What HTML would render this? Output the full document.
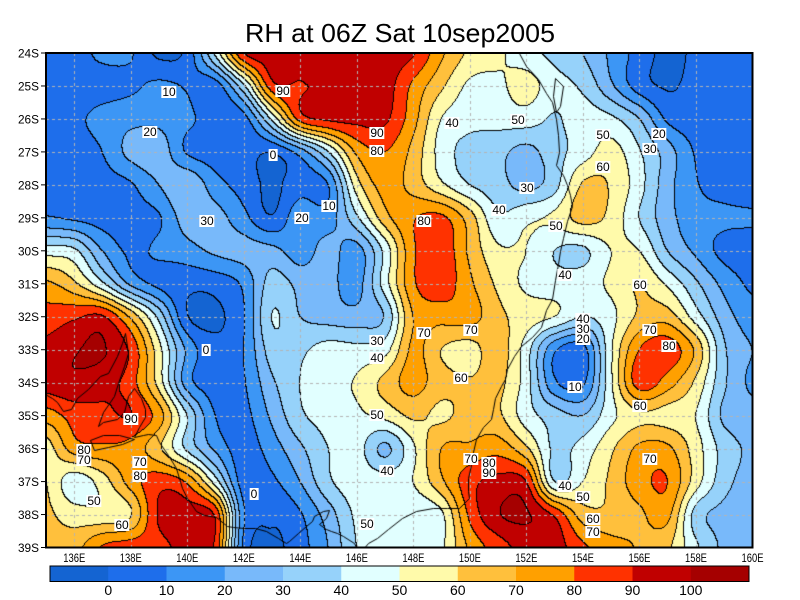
<!DOCTYPE html>
<html><head><meta charset="utf-8">
<style>
html,body{margin:0;padding:0;background:#fff;}
#wrap{position:relative;width:800px;height:600px;overflow:hidden;background:#fff;}
#c{position:absolute;left:46px;top:53px;}
#s{position:absolute;left:0;top:0;}
.lb{position:absolute;background:#fff;font-family:"Liberation Sans",sans-serif;font-size:12px;line-height:12px;color:#000;padding:0 1px;transform:translate(-50%,-50%);white-space:nowrap;}
</style></head><body>
<div id="wrap">
<canvas id="c" width="707" height="495"></canvas>
<svg id="s" width="800" height="600" xmlns="http://www.w3.org/2000/svg" font-family="Liberation Sans, sans-serif">
<text x="400" y="42" font-size="26" text-anchor="middle" textLength="310" lengthAdjust="spacingAndGlyphs">RH at 06Z Sat 10sep2005</text>
<g id="axes" font-size="12"></g>
<rect x="46" y="53" width="706.5" height="494.5" fill="none" stroke="#000" stroke-width="2"/>
<g id="cbar"></g>
</svg>
<div class="lb" style="left:169px;top:92px">10</div>
<div class="lb" style="left:150px;top:132px">20</div>
<div class="lb" style="left:273px;top:155px">0</div>
<div class="lb" style="left:207px;top:221px">30</div>
<div class="lb" style="left:302px;top:218px">20</div>
<div class="lb" style="left:329px;top:206px">10</div>
<div class="lb" style="left:283px;top:91px">90</div>
<div class="lb" style="left:377px;top:133px">90</div>
<div class="lb" style="left:377px;top:151px">80</div>
<div class="lb" style="left:452px;top:123px">40</div>
<div class="lb" style="left:518px;top:120px">50</div>
<div class="lb" style="left:527px;top:188px">30</div>
<div class="lb" style="left:499px;top:210px">40</div>
<div class="lb" style="left:603px;top:135px">50</div>
<div class="lb" style="left:603px;top:167px">60</div>
<div class="lb" style="left:659px;top:134px">20</div>
<div class="lb" style="left:650px;top:149px">30</div>
<div class="lb" style="left:424px;top:221px">80</div>
<div class="lb" style="left:556px;top:226px">50</div>
<div class="lb" style="left:565px;top:275px">40</div>
<div class="lb" style="left:640px;top:285px">60</div>
<div class="lb" style="left:206px;top:350px">0</div>
<div class="lb" style="left:377px;top:341px">30</div>
<div class="lb" style="left:377px;top:358px">40</div>
<div class="lb" style="left:424px;top:333px">70</div>
<div class="lb" style="left:471px;top:330px">70</div>
<div class="lb" style="left:461px;top:378px">60</div>
<div class="lb" style="left:583px;top:319px">40</div>
<div class="lb" style="left:583px;top:329px">30</div>
<div class="lb" style="left:583px;top:339px">20</div>
<div class="lb" style="left:575px;top:387px">10</div>
<div class="lb" style="left:650px;top:330px">70</div>
<div class="lb" style="left:669px;top:346px">80</div>
<div class="lb" style="left:640px;top:406px">60</div>
<div class="lb" style="left:131px;top:419px">90</div>
<div class="lb" style="left:377px;top:415px">50</div>
<div class="lb" style="left:84px;top:450px">80</div>
<div class="lb" style="left:84px;top:460px">70</div>
<div class="lb" style="left:140px;top:462px">70</div>
<div class="lb" style="left:140px;top:476px">80</div>
<div class="lb" style="left:387px;top:471px">40</div>
<div class="lb" style="left:471px;top:459px">70</div>
<div class="lb" style="left:489px;top:463px">80</div>
<div class="lb" style="left:489px;top:473px">90</div>
<div class="lb" style="left:650px;top:459px">70</div>
<div class="lb" style="left:254px;top:494px">0</div>
<div class="lb" style="left:94px;top:501px">50</div>
<div class="lb" style="left:565px;top:486px">40</div>
<div class="lb" style="left:583px;top:497px">50</div>
<div class="lb" style="left:122px;top:525px">60</div>
<div class="lb" style="left:367px;top:524px">50</div>
<div class="lb" style="left:593px;top:519px">60</div>
<div class="lb" style="left:593px;top:532px">70</div>
</div>
<script>
(function(){
var G=[
[5,6,12,11,-2,3,42,90,95,96,97,95,95,91,72,58,52,44,37,30,18,6,-3,2,5,6],
[5,5,6,8,12,9,5,38,86,89,93,97,95,78,62,48,48,54,44,38,22,5,-1,3,5,5],
[6,8,13,17,17,12,6,6,42,84,92,93,92,74,50,44,44,45,39,45,42,30,8,4,5,6],
[5,6,10,23,26,9,5,4,1,15,40,72,80,67,46,36,33,27,36,45,54,41,25,9,4,5],
[4,5,6,9,20,29,14,6,-2,6,10,55,74,66,52,40,34,27,36,61,59,44,24,11,6,5],
[11,8,6,7,9,25,24,13,1,17,15,38,66,79,82,65,42,48,52,64,57,40,24,14,12,11],
[45,42,20,8,12,16,22,24,23,15,24,16,43,78,87,68,52,50,40,38,50,50,30,18,7,6],
[72,62,42,18,7,3,4,12,34,27,24,16,45,78,86,72,58,48,44,45,52,60,48,32,17,8],
[84,88,91,68,37,1,-2,9,40,30,26,24,31,70,74,74,63,55,50,40,47,62,65,45,25,15],
[93,99,101,88,54,18,3,10,35,38,44,43,46,72,60,56,65,45,12,6,48,80,86,68,32,20],
[95,98,94,85,56,15,5,9,28,40,47,51,63,74,64,61,63,45,12,8,48,85,75,58,32,18],
[75,84,87,90,75,40,10,7,22,38,44,48,53,62,58,64,62,45,35,30,47,58,56,50,28,24],
[55,75,78,76,62,38,18,5,15,28,40,44,28,48,70,72,76,62,38,44,58,72,72,55,36,28],
[60,44,55,74,86,78,45,5,8,20,38,46,45,50,68,86,93,90,40,50,62,76,80,55,34,26],
[62,55,53,59,91,95,88,12,2,9,25,42,47,43,48,82,99,101,88,65,62,68,73,36,27,24],
[64,66,81,85,87,93,88,8,-2,6,20,40,42,44,48,72,85,94,95,82,74,69,62,42,28,25]
];
var COL=[[20,100,210],[30,110,235],[60,150,245],[120,185,250],[150,210,250],[225,255,255],[255,250,170],[255,192,60],[255,160,0],[255,50,0],[192,0,0],[165,0,0]];
var W=707,H=495,PX=706.5/25,PY=494.5/15;
function g(r,c){if(r<0)r=0;if(r>15)r=15;if(c<0)c=0;if(c>25)c=25;return G[r][c];}
function cr(p0,p1,p2,p3,t){return p1+0.5*t*(p2-p0+t*(2*p0-5*p1+4*p2-p3+t*(3*(p1-p2)+p3-p0)));}
function val(u,v){var c=Math.floor(u),r=Math.floor(v),tu=u-c,tv=v-r;var a=[];for(var j=-1;j<=2;j++){a.push(cr(g(r+j,c-1),g(r+j,c),g(r+j,c+1),g(r+j,c+2),tu));}return cr(a[0],a[1],a[2],a[3],tv);}
var cv=document.getElementById('c'),ctx=cv.getContext('2d');
var L=new Int8Array(W*H);
for(var y=0;y<H;y++){var v=Math.min(14.9999,(y+0.5)/PY);for(var x=0;x<W;x++){var u=Math.min(24.9999,(x+0.5)/PX);var f=val(u,v);var l=f<0?0:Math.min(11,Math.floor(f/10)+1);L[y*W+x]=l;}}
var img=ctx.createImageData(W,H),d=img.data;
for(var y=0;y<H;y++){for(var x=0;x<W;x++){var i=y*W+x,l=L[i],k=i*4;var edge=(x<W-1&&L[i+1]!=l)||(y<H-1&&L[i+W]!=l);if(edge){d[k]=0;d[k+1]=0;d[k+2]=0;}else{var c=COL[l];d[k]=c[0];d[k+1]=c[1];d[k+2]=c[2];}d[k+3]=255;}}
ctx.putImageData(img,0,0);
function X(lon){return (lon-135)*PX;}function Y(lat){return (lat-24)*PY;}
ctx.strokeStyle='#b4b4b4';ctx.lineWidth=1;ctx.setLineDash([3,3]);
for(var lon=136;lon<=158;lon+=2){var xx=Math.round(X(lon))+0.5;ctx.beginPath();ctx.moveTo(xx,0);ctx.lineTo(xx,H);ctx.stroke();}
for(var lat=25;lat<=38;lat++){var yy=Math.round(Y(lat))+0.5;ctx.beginPath();ctx.moveTo(0,yy);ctx.lineTo(W,yy);ctx.stroke();}
ctx.setLineDash([]);ctx.strokeStyle='#000';ctx.lineWidth=1;
var coasts=[
[[151.75,24.0],[152.0,24.4],[152.4,24.8],[152.7,25.2],[152.9,25.5],[153.05,26.0],[153.1,26.5],[153.15,27.0],[153.05,27.4],[153.3,27.7],[153.45,28.0],[153.55,28.3],[153.6,28.65],[153.45,29.1],[153.3,29.6],[153.2,30.0],[153.1,30.4],[153.0,30.9],[152.9,31.45],[152.7,31.8],[152.5,32.3],[152.2,32.6],[151.8,32.9],[151.55,33.2],[151.3,33.6],[151.25,33.9],[151.1,34.1],[150.9,34.45],[150.8,34.8],[150.75,35.1],[150.45,35.35],[150.2,35.7],[150.1,36.1],[150.05,36.5],[149.95,36.9],[149.95,37.3],[149.98,37.5],[149.6,37.8],[149.2,37.8],[148.7,37.8],[148.1,37.88],[147.6,38.1],[147.1,38.45],[146.7,38.7],[146.4,38.85],[146.2,39.05]],
[[146.0,39.05],[145.9,38.85],[145.5,38.65],[145.3,38.55],[145.1,38.5],[144.9,38.45],[144.65,38.3],[144.9,38.1],[145.0,37.85],[144.8,37.9],[144.5,38.05],[144.4,38.2],[144.2,38.35],[143.9,38.55],[143.6,38.8],[143.5,38.86],[143.2,38.72],[142.8,38.5],[142.4,38.4],[142.0,38.4],[141.6,38.38],[141.4,38.36],[141.0,38.06],[140.6,38.0],[140.3,37.88],[140.0,37.5],[139.8,37.2],[139.7,36.9],[139.6,36.6],[139.3,36.2],[139.0,35.8],[138.9,35.6],[138.6,35.55],[138.45,35.6],[138.1,35.65],[138.3,35.35],[138.5,35.05],[138.5,34.8],[138.35,34.45],[138.1,34.15],[137.9,34.4],[137.75,34.9],[137.5,35.1],[137.0,35.2],[136.85,35.3],[137.0,34.9],[137.4,34.4],[137.55,34.0],[137.75,33.5],[137.9,33.1],[137.8,32.5],[137.7,32.8],[137.5,33.2],[137.2,33.7],[136.9,33.8],[136.5,34.2],[136.1,34.45],[135.9,34.8],[135.6,34.85],[135.4,34.6],[135.2,34.45],[134.9,34.3]],
[[136.55,35.75],[137.0,35.6],[137.6,35.6],[138.1,35.72],[137.7,35.85],[137.2,35.95],[136.7,36.05],[136.55,35.75]],
[[153.0,24.75],[153.3,25.0],[153.2,25.6],[153.05,25.8],[152.95,25.3],[153.0,24.75]]
];
for(var n=0;n<coasts.length;n++){var p=coasts[n];ctx.beginPath();for(var m=0;m<p.length;m++){var px=Math.round(X(p[m][0]))+0.5,py=Math.round(Y(p[m][1]))+0.5;if(m==0)ctx.moveTo(px,py);else ctx.lineTo(px,py);}ctx.stroke();}
var NS='http://www.w3.org/2000/svg';
function el(tag,attrs,txt,parent){var e=document.createElementNS(NS,tag);for(var a in attrs)e.setAttribute(a,attrs[a]);if(txt!=null)e.textContent=txt;parent.appendChild(e);return e;}
var ax=document.getElementById('axes');
for(var lat=24;lat<=39;lat++){var yy=53+(lat-24)*PY;el('line',{x1:41,y1:yy,x2:46,y2:yy,stroke:'#000','stroke-width':1},null,ax);el('text',{x:39,y:yy+4.5,'text-anchor':'end','font-size':12,textLength:21,lengthAdjust:'spacingAndGlyphs'},lat+'S',ax);}
for(var lon=136;lon<=160;lon+=2){var xx=46+(lon-135)*PX;el('text',{x:xx,y:562,'text-anchor':'middle','font-size':12,textLength:22,lengthAdjust:'spacingAndGlyphs'},lon+'E',ax);}
var cb=document.getElementById('cbar');var cw=(749-50)/12;
for(var i=0;i<12;i++){var c=COL[i];el('rect',{x:50+i*cw,y:566,width:cw+0.5,height:15.5,fill:'rgb('+c[0]+','+c[1]+','+c[2]+')'},null,cb);}
el('rect',{x:50,y:566,width:699,height:15.5,fill:'none',stroke:'#000','stroke-width':1},null,cb);
var labs=['0','10','20','30','40','50','60','70','80','90','100'];
for(var i=0;i<11;i++){el('text',{x:50+(i+1)*cw,y:595,'text-anchor':'middle','font-size':14},labs[i],cb);}
})();
</script>
</body></html>
